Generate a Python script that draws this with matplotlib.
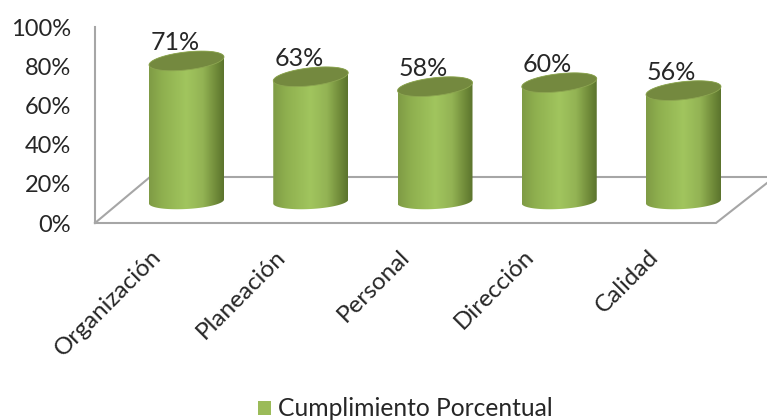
import numpy as np
import matplotlib
import matplotlib.pyplot as plt
from matplotlib.colors import LinearSegmentedColormap
from matplotlib.patches import Patch, PathPatch, Polygon
from matplotlib.path import Path
from matplotlib.transforms import Affine2D

matplotlib.use('Agg')
plt.rcParams['font.family'] = ['Lato', 'DejaVu Sans']

categories = ['Organización', 'Planeación', 'Personal', 'Dirección', 'Calidad']
cumplimiento = [71, 63, 58, 60, 56]
y_ticks = [0, 20, 40, 60, 80, 100]
legend_label = 'Cumplimiento Porcentual'

WIDTH, HEIGHT = 767, 420
BAR_STEP = 124.25     # px between two cylinders
BAR_X0 = 186.5        # px, centre of the first cylinder
BASE_Y = 201.5        # px, centre of the cylinder bases
PX_PER_PCT = 1.98
HALF_W = 37.5 / BAR_STEP

TEXT = '#262626'
LINE = '#a6a6a6'
TOP = '#74893f'
body_cmap = LinearSegmentedColormap.from_list(
    'body', [(0, '#7f9b45'), (0.18, '#8fb04f'), (0.5, '#a1c55e'),
             (0.72, '#93b354'), (0.9, '#6f8a39'), (1, '#5b732d')])

fig = plt.figure(figsize=(WIDTH / 100, HEIGHT / 100), dpi=100)
ax = fig.add_axes([0, 0, 1, 1])
ax.set_xlim(-BAR_X0 / BAR_STEP, (WIDTH - BAR_X0) / BAR_STEP)
ax.set_ylim((BASE_Y - HEIGHT) / PX_PER_PCT, BASE_Y / PX_PER_PCT)
ax.axis('off')

# pixel coordinates from the top left, for the floor of the 3d box
pix = Affine2D().scale(1 / WIDTH, -1 / HEIGHT).translate(0, 1) + fig.transFigure
ax.plot([95, 716, 767], [223, 223, 183], color=LINE, lw=1.5, transform=pix,
        zorder=1, solid_joinstyle='miter')
ax.plot([95, 150, 767], [223, 177, 177], color=LINE, lw=1.5, transform=pix,
        zorder=1, solid_joinstyle='miter')

# value axis on the left wall
wall = fig.add_axes([95 / WIDTH, 1 - 223 / HEIGHT, 0.001, 196 / HEIGHT])
wall.patch.set_alpha(0)
wall.set_ylim(0, 100)
wall.set_xticks([])
wall.set_yticks(y_ticks)
wall.set_yticklabels(['%d%%' % t for t in y_ticks], fontsize=17, color=TEXT)
wall.tick_params(axis='y', length=0, pad=17.5)
for name in ['top', 'right', 'bottom']:
    wall.spines[name].set_visible(False)
wall.spines['left'].set_color(LINE)
wall.spines['left'].set_linewidth(1.5)


def ellipse(i, value, skew, minor, start, stop):
    t = np.linspace(start, stop, 60)
    xs = i + HALF_W * np.cos(t)
    ys = value + (skew * np.cos(t) + minor * np.sin(t)) / PX_PER_PCT
    return np.column_stack([xs, ys])


for i, value in enumerate(cumplimiento):
    lower = ellipse(i, 0, 2, 7.5, np.pi, 2 * np.pi)
    upper = ellipse(i, value, 4, 9, 0, np.pi)
    path = Path(np.vstack([lower, upper, lower[:1]]), closed=True)
    clip = PathPatch(path, fc='none', ec='none', transform=ax.transData)
    ax.add_patch(clip)
    shade = ax.imshow(np.linspace(0, 1, 256).reshape(1, -1), cmap=body_cmap,
                      extent=(i - HALF_W, i + HALF_W, -10, value + 10),
                      aspect='auto', zorder=2, interpolation='bilinear')
    shade.set_clip_path(clip)
    top = ellipse(i, value, 4, 9, 0, 2 * np.pi)
    ax.add_patch(Polygon(top, closed=True, fc=TOP, ec='#8da651', lw=0.6, zorder=3))
    ax.annotate('%d%%' % value, (i, value), xytext=(-8.5, 13),
                textcoords='offset points', ha='center', va='center',
                fontsize=18, color=TEXT, zorder=4)
    # category label runs up to the right and ends under the floor
    ax.annotate(categories[i], (i, 0), xytext=(-26, -32),
                textcoords='offset points', ha='right', va='top', rotation=45,
                rotation_mode='anchor', fontsize=17.5, color=TEXT)

ax.set_xlim(-BAR_X0 / BAR_STEP, (WIDTH - BAR_X0) / BAR_STEP)
ax.set_ylim((BASE_Y - HEIGHT) / PX_PER_PCT, BASE_Y / PX_PER_PCT)

ax.legend(handles=[Patch(fc='#9bbb59', ec='none', label=legend_label)],
          loc='center', bbox_to_anchor=(405.5 / WIDTH, 1 - 409 / HEIGHT),
          frameon=False, fontsize=17.7, labelcolor=TEXT, handlelength=0.53,
          handleheight=0.53, handletextpad=0.28, borderpad=0, borderaxespad=0)

fig.savefig('out.png', dpi=100)
